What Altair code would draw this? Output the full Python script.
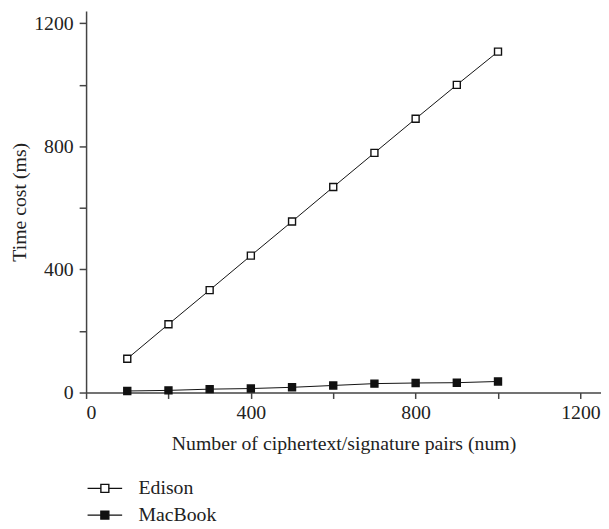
import altair as alt
import pandas as pd

pairs = [100, 200, 300, 400, 500, 600, 700, 800, 900, 1000]
edison = [110, 222, 333, 445, 556, 668, 779, 890, 1000, 1108]
macbook = [5, 7, 11, 13, 17, 23, 29, 31, 32, 36]
series = ["Edison", "MacBook"]

rows = []
for name, vals in zip(series, [edison, macbook]):
    for x, y in zip(pairs, vals):
        rows.append({"n": x, "t": y, "s": name})
df = pd.DataFrame(rows)

FONT = "Liberation Serif"
FS = 20
sym = "M-2,0L-0.46,0M0.46,0L2,0M-0.46,-0.46L0.46,-0.46L0.46,0.46L-0.46,0.46Z"

xax = alt.Axis(values=[0, 200, 400, 600, 800, 1000, 1200], format="d",
               labelExpr="datum.value % 400 == 0 ? datum.label : ''",
               grid=False, tickSize=6, labelPadding=4, titlePadding=12,
               labelFont=FONT, titleFont=FONT, labelFontSize=FS, titleFontSize=FS,
               title="Number of ciphertext/signature pairs (num)")
yax = alt.Axis(values=[0, 200, 400, 600, 800, 1000, 1200], format="d",
               labelExpr="datum.value % 400 == 0 ? datum.label : ''",
               grid=False, tickSize=7, labelPadding=6, titlePadding=4,
               labelFont=FONT, titleFont=FONT, labelFontSize=FS, titleFontSize=FS,
               title="Time cost (ms)")

x = alt.X("n:Q", scale=alt.Scale(domain=[0, 1250], nice=False), axis=xax)
y = alt.Y("t:Q", scale=alt.Scale(domain=[0, 1240], nice=False), axis=yax)

lines = alt.Chart(df).mark_line(color="#111", strokeWidth=1).encode(
    x=x, y=y, detail="s:N")

points = alt.Chart(df).mark_point(shape="square", filled=True, size=50,
                                  stroke="#111", strokeWidth=1.4, opacity=1).encode(
    x=x, y=y,
    fill=alt.Fill("s:N", scale=alt.Scale(domain=series, range=["white", "#111"]),
                  legend=alt.Legend(title=None, orient="none", legendX=9, legendY=473,
                                    symbolType=sym, symbolSize=306,
                                    symbolStrokeColor="#111", symbolStrokeWidth=1.4,
                                    labelOffset=24, rowPadding=7,
                                    labelFont=FONT, labelFontSize=FS, labelColor="#222")))

chart = (lines + points).properties(
    width=521, height=386,
    autosize=alt.AutoSizeParams(type="none"),
    padding={"left": 79, "top": 0, "right": 0, "bottom": 135},
).configure_view(stroke=None).configure_axis(
    labelColor="#222", titleColor="#222", titleFontWeight="normal",
    domainColor="#444", domainWidth=1.5, tickColor="#444", tickWidth=1.5,
)

chart.save("out.html", embed_options={"renderer": "svg", "actions": False})
